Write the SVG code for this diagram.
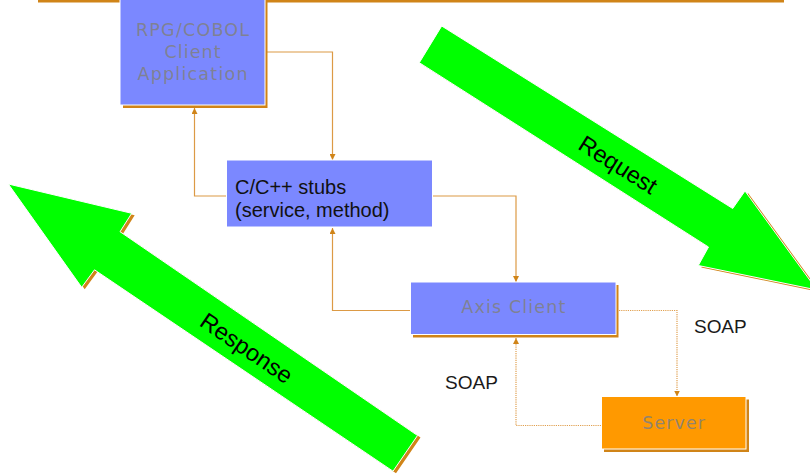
<svg xmlns="http://www.w3.org/2000/svg" width="810" height="475" viewBox="0 0 810 475">
<defs>
<style>
.box{fill:#7b88ff;stroke:#ffffff;stroke-width:1}
.srv{fill:#ff9900;stroke:#ffffff;stroke-width:1}
.shd{fill:#d08418}
.gt{font-family:"DejaVu Sans","Liberation Sans",sans-serif;font-size:17.5px;fill:#808080;fill-opacity:.85;text-anchor:middle}
.bt{font-family:"Liberation Sans",Arial,sans-serif;font-size:20px;fill:#111111}
.lbl{font-family:"Liberation Sans",Arial,sans-serif;font-size:19px;fill:#1a1a1a}
.big{font-family:"Liberation Sans",Arial,sans-serif;font-size:23.5px;fill:#000000;text-anchor:middle}
.con{fill:none;stroke:#dc9a45;stroke-width:1.2}
.dot{fill:none;stroke:#e0a050;stroke-width:1.2;stroke-dasharray:1.2,1}
.arr{fill:#00ff00;stroke:#ffffff;stroke-width:1}
</style>
<marker id="ah" viewBox="0 0 6 6" refX="6" refY="3" markerWidth="6" markerHeight="6" markerUnits="userSpaceOnUse" orient="auto">
<path d="M0,0 L6,3 L0,6 z" fill="#d08418"/>
</marker>
</defs>
<rect x="38" y="0" width="746" height="2.5" fill="#d08418"/>
<g id="request">
<polygon class="shd" transform="translate(3,2)" points="441.7,26 732.7,208.5 745,191 817,290 698.3,265.5 708.5,247 419.3,62.7"/>
<polygon class="arr" points="441.7,26 732.7,208.5 745,191 817,290 698.3,265.5 708.5,247 419.3,62.7"/>
<text class="big" transform="translate(613.7,171.7) rotate(32.3)">Request</text>
</g>
<g id="response">
<polygon class="shd" transform="translate(3,2)" points="8.3,184 131.7,213.3 120,231.7 417.5,435.5 393,471.2 94.5,269.8 81.7,287.3"/>
<polygon class="arr" points="8.3,184 131.7,213.3 120,231.7 417.5,435.5 393,471.2 94.5,269.8 81.7,287.3"/>
<text class="big" transform="translate(242,354.8) rotate(34.3)">Response</text>
</g>
<g id="connectors">
<path class="con" d="M266,52 H332.5 V160" marker-end="url(#ah)"/>
<path class="con" d="M226,196 H194.5 V108" marker-end="url(#ah)"/>
<path class="con" d="M433,196 H516 V282" marker-end="url(#ah)"/>
<path class="con" d="M410,310.5 H332.5 V228" marker-end="url(#ah)"/>
<path class="dot" d="M619,310.5 H677 V396.5" marker-end="url(#ah)"/>
<path class="dot" d="M601,425.5 H516 V338" marker-end="url(#ah)"/>
</g>
<g id="rpg">
<rect class="shd" x="123" y="-7" width="144.5" height="115"/>
<rect class="box" x="120" y="-10" width="145" height="115"/>
<text class="gt" x="192.5" y="36" textLength="113" lengthAdjust="spacing">RPG/COBOL</text>
<text class="gt" x="192.5" y="58" textLength="56" lengthAdjust="spacing">Client</text>
<text class="gt" x="192.5" y="79.5" textLength="110" lengthAdjust="spacing">Application</text>
</g>
<g id="stubs">
<rect class="box" x="226.5" y="160" width="206" height="67"/>
<text class="bt" x="235" y="194">C/C++ stubs</text>
<text class="bt" x="235" y="216.5">(service, method)</text>
</g>
<g id="axis">
<rect class="shd" x="413" y="285" width="205.5" height="52.5"/>
<rect class="box" x="410.5" y="282" width="205.5" height="52.5"/>
<text class="gt" x="513.3" y="313.3" textLength="104" lengthAdjust="spacing">Axis Client</text>
</g>
<g id="server">
<rect class="shd" x="604" y="399.5" width="145" height="52.5"/>
<rect class="srv" x="601.5" y="396.5" width="144.5" height="52.5"/>
<text class="gt" x="673.7" y="429.3" textLength="62.7" lengthAdjust="spacing">Server</text>
</g>
<text class="lbl" x="445" y="389.3" textLength="53" lengthAdjust="spacing">SOAP</text>
<text class="lbl" x="694" y="332.7" textLength="52.7" lengthAdjust="spacing">SOAP</text>
</svg>
